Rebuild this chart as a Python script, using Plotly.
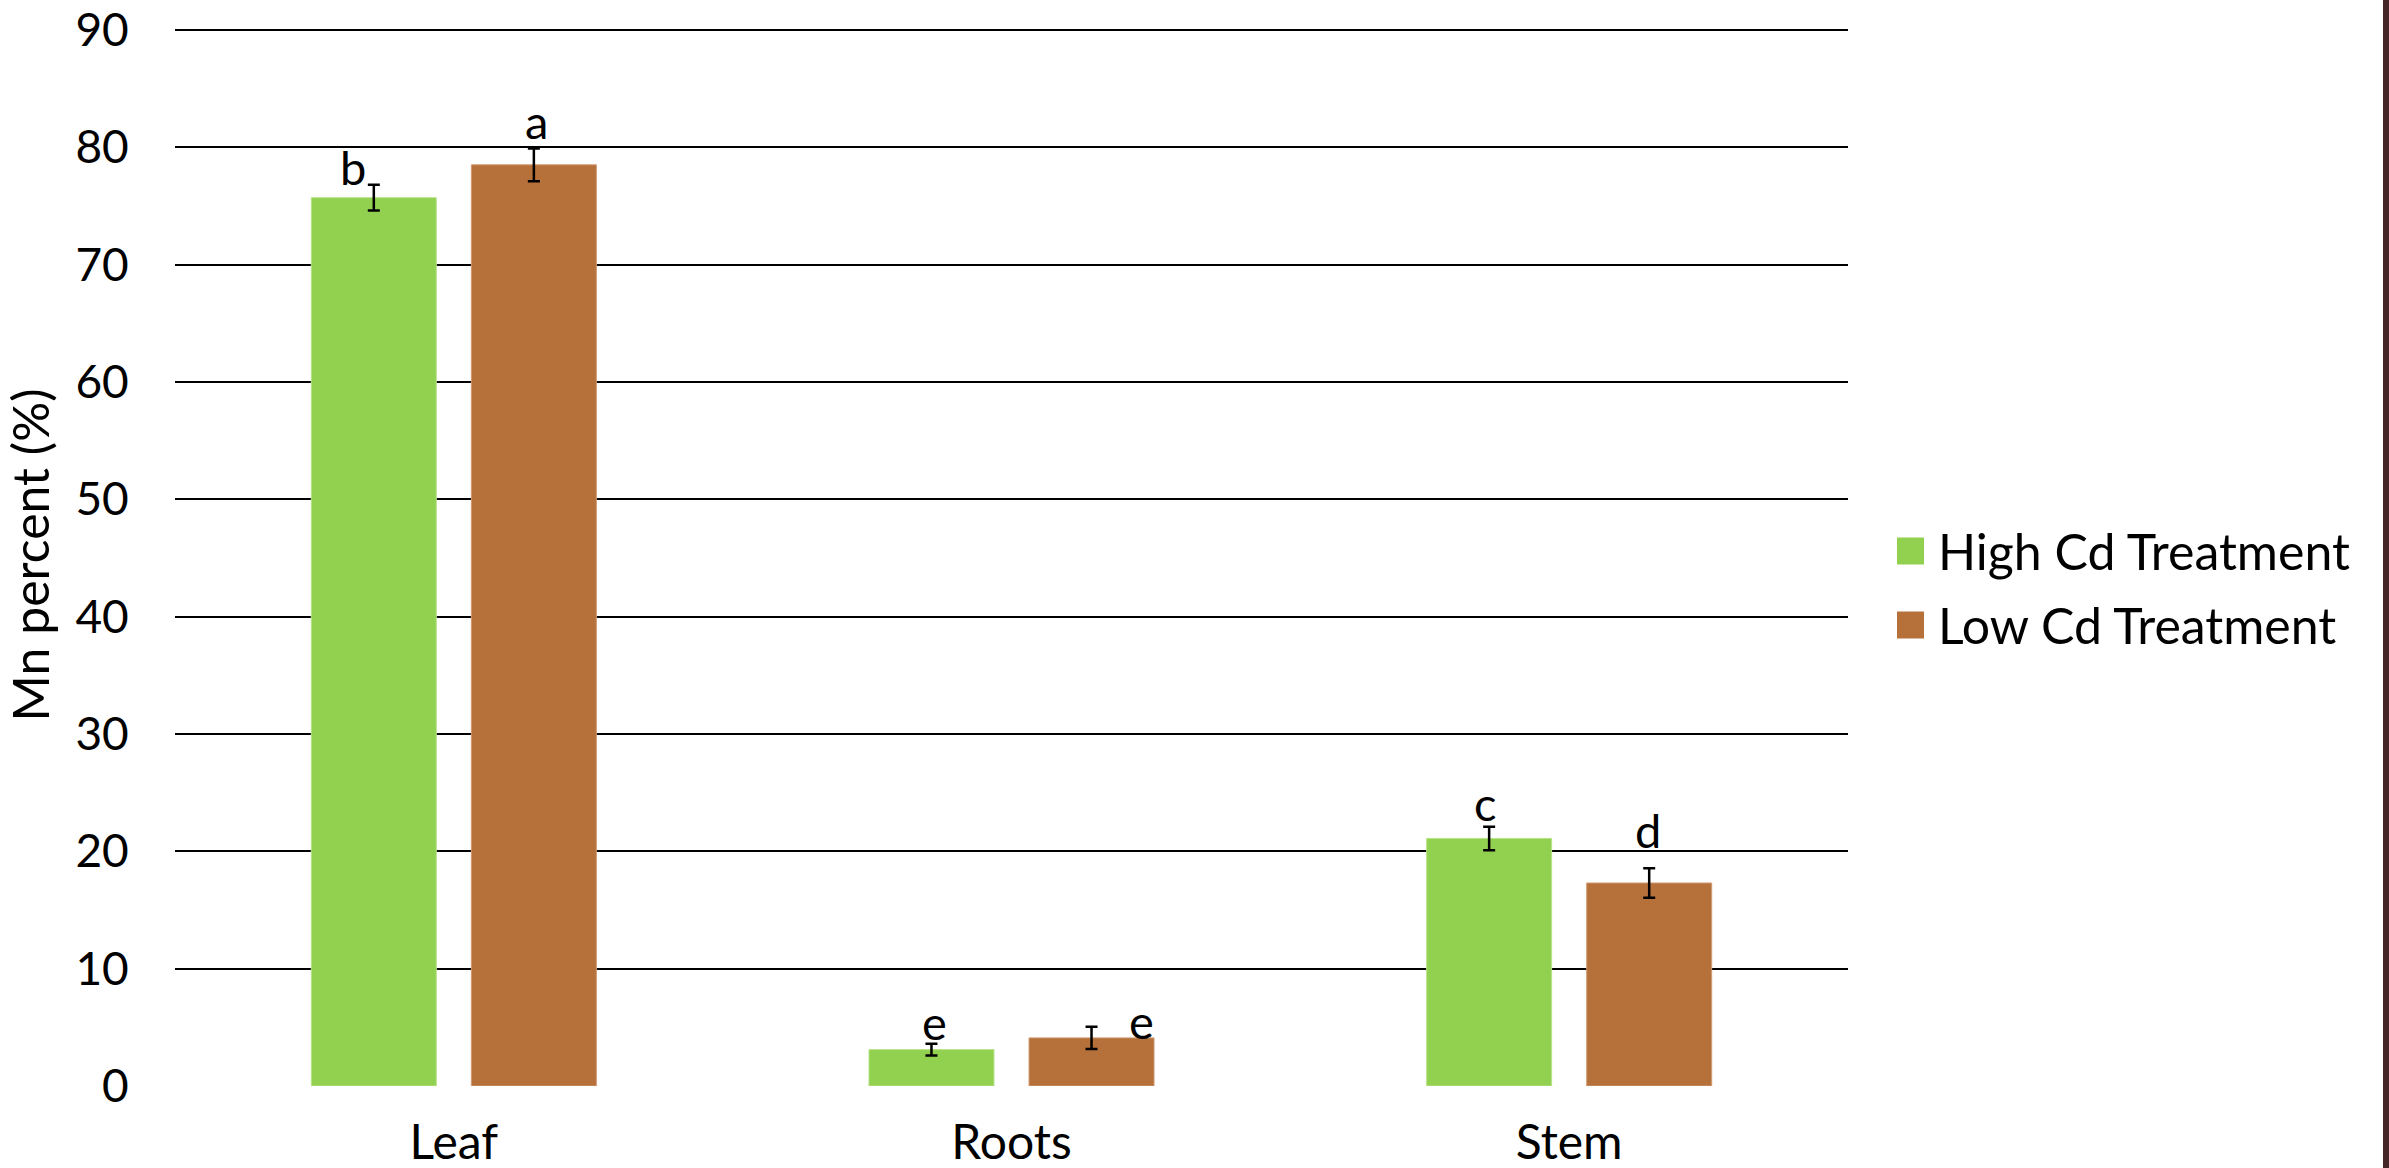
import plotly.graph_objects as go

# Mn distribution by plant organ under two Cd treatments
organs = ["Leaf", "Roots", "Stem"]
high_cd = [75.7, 3.1, 21.1]
high_cd_err = [1.1, 0.5, 1.0]
low_cd = [78.5, 4.1, 17.3]
low_cd_err = [1.4, 0.95, 1.25]
high_letters = ["b", "e", "c"]
low_letters = ["a", "e", "d"]
series_names = ["High Cd Treatment", "Low Cd Treatment"]
y_ticks = [0, 10, 20, 30, 40, 50, 60, 70, 80, 90]

GREEN = "#92D050"
BROWN = "#B6703A"
FONT = "Lato"

W, H = 2389, 1168
ML, MR, MT, MB = 175, 541, 24, 82
PW, PH = W - ML - MR, H - MT - MB


def px_x(px):
    return (px - ML) / PW


def px_y(py):
    return (H - MB - py) / PH


fig = go.Figure()
fig.add_trace(go.Bar(
    x=organs, y=high_cd, name=series_names[0], marker_color=GREEN,
    marker_line=dict(color="#B8E38A", width=1),
    error_y=dict(type="data", array=high_cd_err, color="black", thickness=2.5, width=6),
    showlegend=False,
))
fig.add_trace(go.Bar(
    x=organs, y=low_cd, name=series_names[1], marker_color=BROWN,
    marker_line=dict(color="#D09A72", width=1),
    error_y=dict(type="data", array=low_cd_err, color="black", thickness=2.5, width=6),
    showlegend=False,
))

# significance letters: (x shift from category centre, y shift above error bar) in px
high_offsets = [(-101, -12), (-77, -8), (-84, -6)]
low_offsets = [(83, -3), (130, -24), (79, 8)]
for vals, errs, letters, offs in [
    (high_cd, high_cd_err, high_letters, high_offsets),
    (low_cd, low_cd_err, low_letters, low_offsets),
]:
    for org, v, e, lt, (dx, dy) in zip(organs, vals, errs, letters, offs):
        fig.add_annotation(
            x=org, y=v + e, text=lt, showarrow=False,
            xanchor="center", yanchor="bottom", xshift=dx, yshift=dy,
            font=dict(family=FONT, size=47, color="black"),
        )

# legend drawn with larger swatches
legend_rows = [551, 625]
for name, color, cy in zip(series_names, [GREEN, BROWN], legend_rows):
    fig.add_shape(
        type="rect", xref="paper", yref="paper",
        x0=px_x(1897), x1=px_x(1924), y0=px_y(cy + 13.5), y1=px_y(cy - 13.5),
        fillcolor=color, line=dict(width=0),
    )
    fig.add_annotation(
        xref="paper", yref="paper", x=px_x(1936), y=px_y(cy), text=name,
        showarrow=False, xanchor="left", yanchor="middle",
        font=dict(family=FONT, size=50, color="black"),
    )

# dark border strip on the right edge
fig.add_shape(
    type="rect", xref="paper", yref="paper",
    x0=px_x(2383), x1=px_x(2392), y0=-0.2, y1=1.2,
    fillcolor="#442726", line=dict(width=0),
)

fig.update_layout(
    width=W, height=H,
    margin=dict(l=ML, r=MR, t=MT, b=MB, autoexpand=False),
    paper_bgcolor="white", plot_bgcolor="white",
    barmode="group", bargap=0.426, bargroupgap=0.219,
    font=dict(family=FONT, size=46, color="black"),
    showlegend=False,
)
fig.update_xaxes(
    automargin=False,
    showgrid=False, showline=False, zeroline=False,
    ticks="outside", ticklen=14, tickcolor="rgba(0,0,0,0)",
    tickfont=dict(family=FONT, size=48, color="black"),
)
fig.update_yaxes(
    automargin=False, ticklabeloverflow="allow",
    range=[0, 90.5], tickvals=y_ticks,
    showgrid=True, gridcolor="black", gridwidth=2,
    zeroline=True, zerolinecolor="white", zerolinewidth=2,
    showline=False,
    ticks="outside", ticklen=36, tickcolor="rgba(0,0,0,0)",
    tickfont=dict(family=FONT, size=46, color="black"),
    title=dict(text="Mn percent (%)", standoff=10,
               font=dict(family=FONT, size=50, color="black")),
)

fig.write_html("out.html")
